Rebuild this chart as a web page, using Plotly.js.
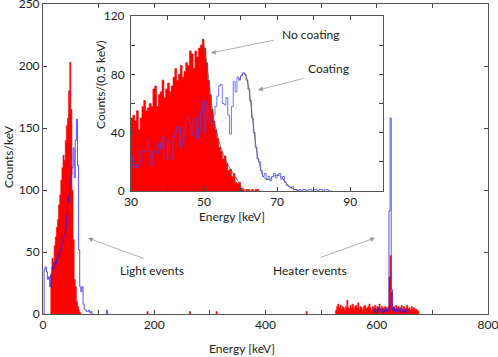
<!DOCTYPE html>
<html>
<head>
<meta charset="utf-8">
<script src="https://cdn.plot.ly/plotly-3.0.1.min.js"></script>
<style>
  html, body { margin: 0; padding: 0; background: #fff; }
  #chart { width: 498px; height: 357px; }
</style>
</head>
<body>
<div id="chart"></div>
<script>
// ===== main plot (counts/keV, 2 keV bins) =====
const lightRedStart = 14;
const lightRed = [32, 45, 42, 55, 62, 70, 76, 88, 96, 108, 118, 128, 124, 140, 152, 158, 180, 203,
  165, 100, 60, 28, 22, 10, 6, 3, 1];
const lightBlueStart = 0;
const lightBlue = [0, 36, 38, 34, 28, 30, 22, 32, 38, 36, 42, 40, 45, 48, 46, 50, 55, 58, 62, 64,
  68, 80, 95, 90, 105, 112, 118, 134, 110, 140, 157, 120, 52, 22, 18, 22, 8, 4, 3, 2, 2, 3, 1, 2, 0];
const heaterRedStart = 526;
const heaterRed = [3, 6, 8, 5, 7, 4, 6, 5, 3, 6, 11, 5, 4, 7, 5, 8, 4, 6, 7, 5,
  9, 4, 6, 5, 3, 6, 7, 4, 5, 6, 8, 5, 3, 6, 5, 7, 4, 6, 5, 8,
  4, 6, 5, 3, 6, 5, 4, 6, 30, 47, 18, 5, 6, 4, 7, 5, 6, 4, 5, 7,
  3, 6, 4, 5, 7, 4, 5, 3, 6, 4, 5, 3, 4, 3, 2];
const heaterBlueStart = 594;
const heaterBlue = [2, 4, 1, 3, 5, 2, 4, 3, 1, 4, 2, 5, 3, 2, 83, 158, 20, 3, 5, 2,
  4, 1, 3, 5, 2, 4, 3, 1, 4, 2, 3];
// lone counts
const strayRedE = [187, 263, 311, 473];
const strayRedC = [2, 2, 2, 2];
const strayBlueE = [114];
const strayBlueC = [3];

// ===== inset (counts per 0.5 keV) =====
const insetStart = 30;
const insetBin = 0.5;
const insetRed = [50, 52, 48, 55, 42, 50, 58, 62, 55, 57,
  60, 58, 70, 72, 58, 66, 68, 76, 64, 70,
  74, 68, 72, 78, 84, 76, 80, 86, 78, 82,
  88, 86, 96, 94, 84, 96, 92, 98, 100, 104,
  98, 88, 76, 66, 56, 48, 42, 36, 30, 27,
  22, 24, 19, 14, 15, 10, 12, 6, 5, 6,
  2, 1, 0, 1, 1, 0, 1, 0, 1, 1];
const insetBlue = [24, 18, 16, 18, 18, 27, 27, 27, 27, 35,
  28, 18, 27, 27, 26, 33, 29, 37, 23, 22,
  34, 22, 22, 37, 40, 44, 44, 30, 34, 42,
  49, 51, 46, 38, 50, 50, 36, 42, 55, 62,
  40, 61, 50, 48, 45, 52, 58, 65, 72, 73,
  60, 59, 64, 52, 39, 58, 75, 68, 78, 76,
  79, 81, 80, 76, 70, 62, 50, 40, 30, 22,
  20, 14, 10, 12, 8, 10, 7, 10, 12, 9,
  11, 12, 8, 10, 6, 4, 3, 2, 3, 1,
  1, 0, 1, 0, 1, 1, 0, 1, 1, 0,
  1, 1, 0, 1, 1, 0, 1, 1, 0, 0];
const redFitE = [49.6, 50.5, 51.5, 52.5, 53, 54, 55, 56, 57, 58, 59, 60, 61, 62];
const redFitC = [104, 92, 72, 52, 45, 35, 27, 21, 16, 12, 8, 4, 1.5, 0];
const blueFitE = [59.5, 60.5, 61, 61.5, 62, 62.5, 63, 63.5, 64, 64.5, 65, 65.5, 66, 67, 68, 69, 70, 71, 72, 73, 74, 75, 76];
const blueFitC = [76, 80, 81, 79, 74, 66, 56, 45, 35, 26, 20, 15, 11, 8, 8, 10, 11, 10, 7, 4, 2, 1, 0];

// step outline of a histogram (bins start at `start`, width `w`)
function steps(start, w, vals) {
  const xs = [start], ys = [0];
  vals.forEach((v, i) => { xs.push(start + i * w); ys.push(v); });
  const end = start + vals.length * w;
  xs.push(end, end); ys.push(vals[vals.length - 1], 0);
  return { x: xs, y: ys };
}
// several lone bins, separated by gaps
function loneBins(es, cs, w) {
  const xs = [], ys = [];
  es.forEach((e, i) => {
    const s = steps(e, w, [cs[i]]);
    xs.push(...s.x, null); ys.push(...s.y, null);
  });
  return { x: xs, y: ys };
}

const RED = "#ff0000";
const BLUE_MAIN = "rgba(30,30,255,0.75)";
const BLUE_INSET = "rgba(70,70,255,0.75)";
const FIT = "#555555";

function redTrace(s, xa, ya) {
  return { type: "scatter", mode: "lines", x: s.x, y: s.y, xaxis: xa, yaxis: ya,
    line: { shape: "hv", color: RED, width: 0.6 }, fill: "tozeroy", fillcolor: RED, hoverinfo: "skip" };
}
function blueTrace(s, xa, ya, col) {
  return { type: "scatter", mode: "lines", x: s.x, y: s.y, xaxis: xa, yaxis: ya,
    line: { shape: "hv", color: col, width: 1 }, hoverinfo: "skip", connectgaps: false };
}

const data = [
  redTrace(steps(lightRedStart, 2, lightRed), "x", "y"),
  redTrace(steps(heaterRedStart, 2, heaterRed), "x", "y"),
  redTrace(loneBins(strayRedE, strayRedC, 2), "x", "y"),
  blueTrace(steps(lightBlueStart, 2, lightBlue), "x", "y", BLUE_MAIN),
  blueTrace(steps(heaterBlueStart, 2, heaterBlue), "x", "y", BLUE_MAIN),
  blueTrace(loneBins(strayBlueE, strayBlueC, 2), "x", "y", BLUE_MAIN),
  redTrace(steps(insetStart, insetBin, insetRed), "x2", "y2"),
  blueTrace(steps(insetStart, insetBin, insetBlue), "x2", "y2", BLUE_INSET),
  { type: "scatter", mode: "lines", x: redFitE, y: redFitC, xaxis: "x2", yaxis: "y2",
    line: { color: FIT, width: 0.8, shape: "spline" }, hoverinfo: "skip" },
  { type: "scatter", mode: "lines", x: blueFitE, y: blueFitC, xaxis: "x2", yaxis: "y2",
    line: { color: FIT, width: 0.8, shape: "spline" }, hoverinfo: "skip" }
];

// pixel -> paper helpers (plot area 43..488 x 4..314)
const PL = 43, PR = 488, PT = 4, PB = 314;
const px = (x) => (x - PL) / (PR - PL);
const py = (y) => (PB - y) / (PB - PT);

const txtFont = { family: "Lato, 'Open Sans', sans-serif", size: 12, color: "#222" };
function label(text, x, y, angle) {
  return { text, xref: "paper", yref: "paper", x: px(x), y: py(y), showarrow: false,
    xanchor: "center", yanchor: "middle", textangle: angle || 0, font: txtFont };
}
function arrow(hx, hy, tx, ty) {
  return { text: "", xref: "paper", yref: "paper", x: px(hx), y: py(hy),
    ax: tx - hx, ay: ty - hy, showarrow: true, arrowhead: 2, arrowsize: 1.2,
    arrowwidth: 0.8, arrowcolor: "#9a9a9a", standoff: 0, startstandoff: 0 };
}

const axisBase = {
  showline: true, mirror: "ticks", linecolor: "#555", linewidth: 1,
  ticks: "inside", ticklen: 4, tickcolor: "#444", tickwidth: 1,
  showgrid: false, zeroline: false, tickfont: txtFont, fixedrange: true,
  ticklabeloverflow: "allow"
};

const layout = {
  width: 498, height: 357,
  margin: { l: PL, r: 498 - PR, t: PT, b: 357 - PB },
  paper_bgcolor: "#fff", plot_bgcolor: "#fff",
  showlegend: false,
  font: txtFont,
  xaxis: Object.assign({}, axisBase, {
    range: [0, 800.01], tickvals: [0, 100, 200, 300, 400, 500, 600, 700, 800],
    ticktext: ["0", "", "200", "", "400", "", "600", "", "800"], anchor: "y"
  }),
  yaxis: Object.assign({}, axisBase, {
    range: [0, 250], tickvals: [0, 50, 100, 150, 200, 250], anchor: "x"
  }),
  xaxis2: Object.assign({}, axisBase, {
    domain: [px(131), px(383)], range: [30, 99], anchor: "y2",
    tickvals: [30, 40, 50, 60, 70, 80, 90], ticktext: ["30", "", "50", "", "70", "", "90"]
  }),
  yaxis2: Object.assign({}, axisBase, {
    domain: [py(191), py(16)], range: [0, 120], anchor: "x2", ticklabelstandoff: 3,
    tickvals: [0, 20, 40, 60, 80, 100, 120], ticktext: ["0", "", "40", "", "80", "", "120"]
  }),
  annotations: [
    label("Energy [keV]", 242, 349),
    label("Counts/keV", 8, 157, -90),
    label("Energy [keV]", 232, 217),
    label("Counts/(0.5 keV)", 101, 85, -90),
    label("No coating", 311, 35),
    arrow(211, 53, 275, 40),
    label("Coating", 328, 68),
    arrow(258, 90, 305, 78),
    label("Light events", 152, 270),
    arrow(88, 238, 145, 259),
    label("Heater events", 310, 270),
    arrow(375, 238, 319, 258)
  ]
};

Plotly.newPlot("chart", data, layout, { displayModeBar: false, staticPlot: true });
</script>
</body>
</html>
